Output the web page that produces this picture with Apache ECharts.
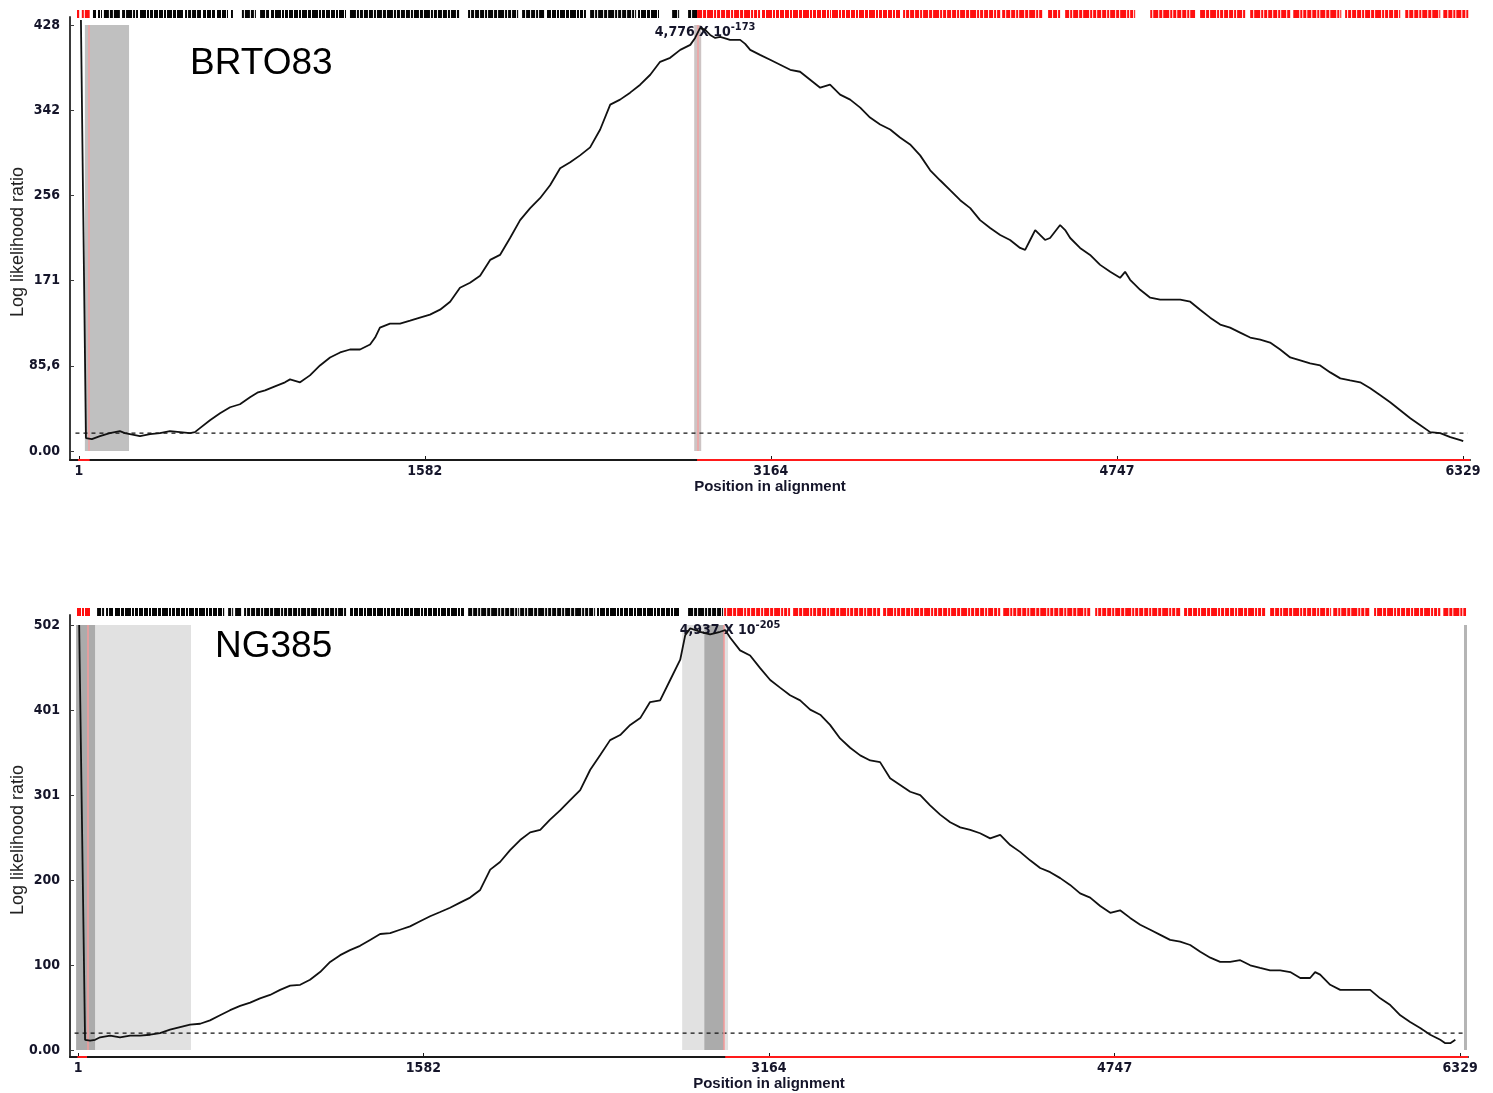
<!DOCTYPE html>
<html><head><meta charset="utf-8">
<script src="https://cdn.jsdelivr.net/npm/echarts@6/dist/echarts.min.js"></script>
<style>html,body{margin:0;padding:0;background:#fff}#c{width:1493px;height:1093px}</style>
</head><body><div id="c"></div>
<script>
// ---------------- DATA ----------------
const xTicks = [1, 1582, 3164, 4747, 6329];
const xTickLabels = ['1', '1582', '3164', '4747', '6329'];

const topYTicks = [0, 85.6, 171.2, 256.8, 342.4, 428];
const topYLabels = ['0.00', '85,6', '171', '256', '342', '428'];
const botYTicks = [0, 100.4, 200.8, 301.2, 401.6, 502];
const botYLabels = ['0.00', '100', '200', '301', '401', '502'];

const yAxisTitle = 'Log likelihood ratio';
const panelNames = ['BRTO83', 'NG385'];
const peakMantissa = ['4,776 X 10', '4,937 X 10'];
const peakExponent = ['-173', '-205'];
const peakLabelAt = [[2864, 421], [2986, 496]];

const thresholds = [18, 20];

// BRTO83 curve
const topPos = [10,33,60,97,142,188,211,234,280,326,371,417,463,509,531,554,600,646,692,737,783,820,852,897,943,966,1012,1057,1103,1149,1195,1240,1286,1332,1355,1377,1423,1469,1515,1560,1606,1652,1698,1743,1789,1835,1881,1926,1972,2018,2064,2109,2155,2201,2247,2292,2338,2384,2430,2475,2521,2567,2613,2658,2704,2750,2796,2818,2841,2864,2887,2910,2933,2978,3024,3047,3070,3115,3161,3207,3253,3298,3344,3390,3435,3481,3527,3573,3618,3664,3710,3755,3801,3847,3893,3938,3984,4030,4076,4121,4167,4213,4258,4304,4327,4350,4373,4396,4418,4441,4487,4510,4533,4578,4624,4670,4716,4761,4784,4807,4853,4899,4944,4990,5036,5082,5127,5173,5219,5264,5310,5356,5402,5447,5493,5539,5585,5630,5676,5722,5768,5813,5859,5905,5951,5996,6042,6088,6134,6179,6225,6271,6317,6330];
const topVal = [433,13,12,15,18,20,18,17,15,17,18,20,19,18,19,23,31,38,44,47,54,59,61,65,69,72,69,76,86,94,99,102,102,107,114,124,128,128,131,134,137,142,150,164,169,176,192,197,214,232,244,254,267,284,290,297,305,323,348,353,360,368,378,391,395,403,408,415,425,423,418,415,416,413,413,409,403,398,393,388,383,381,373,365,368,358,353,345,335,328,323,315,308,297,282,272,262,252,244,232,224,217,212,204,202,212,222,217,212,214,227,222,214,204,197,187,180,174,180,172,162,154,152,152,152,150,142,134,127,124,119,114,112,109,102,94,91,88,86,79,73,71,69,63,56,49,41,33,26,19,18,14,11,10];

// NG385 curve
const botPos = [6,33,56,79,102,148,193,239,285,331,376,422,468,514,560,605,651,697,743,789,834,880,926,972,1018,1063,1109,1155,1201,1246,1292,1338,1384,1430,1475,1521,1567,1613,1659,1704,1750,1796,1842,1888,1933,1979,2025,2071,2117,2162,2208,2254,2300,2346,2391,2437,2483,2529,2575,2620,2666,2712,2758,2781,2804,2849,2895,2941,2964,2987,3032,3078,3124,3170,3215,3261,3307,3353,3399,3444,3490,3536,3582,3628,3673,3719,3765,3811,3857,3902,3948,3994,4040,4086,4131,4177,4223,4269,4314,4360,4406,4452,4498,4543,4589,4635,4681,4727,4772,4818,4864,4910,4956,5001,5047,5093,5139,5185,5230,5276,5322,5368,5413,5459,5505,5551,5597,5642,5665,5688,5734,5780,5826,5871,5917,5963,6009,6055,6100,6146,6192,6238,6261,6284,6307];
const botVal = [502,12,11,12,15,17,15,17,17,18,20,24,27,30,31,35,41,47,52,56,61,65,71,76,77,83,92,104,112,118,123,130,137,138,142,146,152,158,163,168,174,180,189,213,222,236,248,257,260,272,283,295,307,331,348,366,372,384,392,411,413,437,461,490,498,494,491,494,496,487,472,466,451,437,428,419,413,402,396,384,368,357,348,342,340,321,313,305,301,289,278,269,263,260,256,250,254,242,234,224,215,210,203,195,185,180,170,162,165,156,148,142,136,130,128,124,116,109,104,104,106,100,97,94,94,92,85,85,92,89,77,71,71,71,71,61,53,41,33,26,18,12,8,8,12];

// Shaded windows [from, to] in alignment positions
const topBandDark = [[28, 230]];
const topPeakBand = [[2814, 2846]];
const topRedMarks = [47, 2830];
const botBandDark = [[-8, 79], [2868, 2959]];
const botBandLight = [[79, 518], [2767, 2868], [2959, 2977]];
const botRedMarks = [47, 2959];
const botGreyMarks = [6352];

// red portions of the x axis line
const topAxisRed = [[-3, 50], [2827, 6361]];
const botAxisRed = [[-2, 42], [2964, 6365]];

// informative-site strips: runs [from, to]
const topStripBlack = [[65,79],[88,106],[115,188],[198,271],[280,477],[486,559],[568,623],[632,682],[696,705],[746,806],[829,870],[879,1222],[1240,1739],[1780,2009],[2027,2132],[2141,2319],[2338,2548],[2557,2649],[2713,2745],[2786,2827]];
const topStripRed = [[-8,2],[14,50],[2827,3115],[3124,3435],[3444,3755],[3769,4213],[4222,4409],[4432,4487],[4510,4830],[4899,5104],[5127,5333],[5356,5539],[5553,5768],[5790,6042],[6065,6225],[6239,6353]];
const botStripBlack = [[88,120],[129,161],[170,670],[688,711],[720,752],[761,1228],[1246,1768],[1787,2016],[2025,2368],[2377,2753],[2794,2950]];
const botStripRed = [[-4,56],[2959,3261],[3275,3673],[3687,4223],[4237,4635],[4658,5047],[5065,5436],[5459,5734],[5748,5917],[5935,6238],[6252,6356]];

// ---------------- CHART ----------------
const FN = "'DejaVu Sans Condensed','Liberation Sans Narrow','Liberation Sans',sans-serif";
const LBL = '#15152a';
const chart = echarts.init(document.getElementById('c'));

const panels = [
  {grid: {left: 70, right: 23, top: 17, height: 443, outerBoundsMode: 'none'},
   strip: {left: 70, right: 23, top: 10, height: 8, outerBoundsMode: 'none'},
   xmin: -40, xmax: 6361, ymin: -9, ymax: 436, ymaxBand: 428, yTicks: topYTicks, yLabels: topYLabels,
   pos: topPos, val: topVal, thr: thresholds[0], thrRange: [-15, 6350],
   axisRed: topAxisRed, black: topStripBlack, red: topStripRed, titleY: 242},
  {grid: {left: 70, right: 25, top: 615, height: 442, outerBoundsMode: 'none'},
   strip: {left: 70, right: 25, top: 608, height: 8, outerBoundsMode: 'none'},
   xmin: -36, xmax: 6365, ymin: -8.3, ymax: 513.8, ymaxBand: 502, yTicks: botYTicks, yLabels: botYLabels,
   pos: botPos, val: botVal, thr: thresholds[1], thrRange: [-15, 6350],
   axisRed: botAxisRed, black: botStripBlack, red: botStripRed, titleY: 840}
];

const grid = [], xAxis = [], yAxis = [], series = [], graphic = [];

function labelFor(ticks, labels) {
  return function (v) {
    let best = 0, d = Infinity;
    ticks.forEach((t, i) => { if (Math.abs(t - v) < d) { d = Math.abs(t - v); best = i; } });
    return labels[best];
  };
}

// barcode-like rendering of a run (visual texture only)
const barW = [4, 2, 5, 3, 6, 2, 3, 4];
function stripRender(color) {
  return function (params, api) {
    const s = api.coord([api.value(0), 0]);
    const e = api.coord([api.value(1), 0]);
    const cs = params.coordSys;
    const children = [];
    let x = s[0], k = params.dataIndex;
    while (x < e[0]) {
      const w = Math.min(barW[k % barW.length], e[0] - x);
      children.push({type: 'rect', shape: {x: x, y: cs.y, width: Math.max(1, w), height: cs.height},
        style: {fill: color}});
      x += w + 1; k++;
    }
    return {type: 'group', children: children};
  };
}

panels.forEach((p, i) => {
  const gMain = grid.length;
  grid.push(p.grid);
  const gStrip = grid.length;
  grid.push(p.strip);

  graphic.push({type: 'text', x: 18, y: p.titleY, rotation: Math.PI / 2, silent: true,
    style: {text: yAxisTitle, fontFamily: 'Liberation Sans', fontSize: 18, fill: '#222',
      align: 'center', verticalAlign: 'middle'}});

  xAxis.push({
    gridIndex: gMain, type: 'value', min: p.xmin, max: p.xmax,
    name: 'Position in alignment', nameLocation: 'middle', nameGap: 18,
    nameTextStyle: {fontFamily: 'Liberation Sans', fontWeight: 'bold', fontSize: 15, color: LBL},
    axisLine: {show: true, onZero: false, lineStyle: {color: '#1a1a1a', width: 2}},
    axisTick: {show: true, inside: true, length: 4, customValues: xTicks, lineStyle: {color: '#1a1a1a'}},
    axisLabel: {show: true, customValues: xTicks, formatter: labelFor(xTicks, xTickLabels), margin: 4,
      fontFamily: FN, fontWeight: 'bold', fontSize: 14, color: LBL},
    splitLine: {show: false}
  });
  xAxis.push({gridIndex: gStrip, type: 'value', min: p.xmin, max: p.xmax, show: false});

  yAxis.push({
    gridIndex: gMain, type: 'value', min: p.ymin, max: p.ymax,
    axisLine: {show: true, onZero: false, lineStyle: {color: '#3a3a3a', width: 2}},
    axisTick: {show: true, inside: true, length: 4, customValues: p.yTicks, lineStyle: {color: '#3a3a3a'}},
    axisLabel: {show: true, customValues: p.yTicks, formatter: labelFor(p.yTicks, p.yLabels), margin: 10,
      fontFamily: FN, fontWeight: 'bold', fontSize: 14, color: LBL},
    splitLine: {show: false}
  });
  yAxis.push({gridIndex: gStrip, type: 'value', min: 0, max: 1, show: false});

  const xi = gMain, yi = gMain;
  const areas = [];
  const lines = [];
  if (i === 0) {
    topBandDark.forEach(b => areas.push([{xAxis: b[0], yAxis: 0, itemStyle: {color: '#c0c0c0'}}, {xAxis: b[1], yAxis: p.ymaxBand}]));
    topPeakBand.forEach(b => areas.push([{xAxis: b[0], yAxis: 0, itemStyle: {color: '#cdc4c4'}}, {xAxis: b[1], yAxis: p.ymaxBand}]));
    topRedMarks.forEach(m => lines.push([{coord: [m, 0], lineStyle: {color: '#f2a0a0', width: 1.5, type: 'solid'}}, {coord: [m, p.ymaxBand]}]));
  } else {
    botBandLight.forEach(b => areas.push([{xAxis: b[0], yAxis: 0, itemStyle: {color: '#e1e1e1'}}, {xAxis: b[1], yAxis: p.ymaxBand}]));
    botBandDark.forEach(b => areas.push([{xAxis: b[0], yAxis: 0, itemStyle: {color: '#ababab'}}, {xAxis: b[1], yAxis: p.ymaxBand}]));
    botRedMarks.forEach(m => lines.push([{coord: [m, 0], lineStyle: {color: '#f59a9a', width: 1.5, type: 'solid'}}, {coord: [m, p.ymaxBand]}]));
    botGreyMarks.forEach(m => lines.push([{coord: [m, 0], lineStyle: {color: '#b5b5b5', width: 3, type: 'solid'}}, {coord: [m, p.ymaxBand]}]));
  }
  p.axisRed.forEach(r => lines.push([{coord: [r[0], p.ymin], lineStyle: {color: '#ff1a1a', width: 2, type: 'solid'}}, {coord: [r[1], p.ymin]}]));

  series.push({
    type: 'line', xAxisIndex: xi, yAxisIndex: yi, z: 2, symbol: 'none', silent: true,
    data: [[p.thrRange[0], p.thr], [p.thrRange[1], p.thr]],
    lineStyle: {color: '#111', width: 1.3, type: [4, 4]},
    markArea: {silent: true, data: areas},
    markLine: {silent: true, symbol: 'none', label: {show: false}, data: lines}
  });

  series.push({
    type: 'line', xAxisIndex: xi, yAxisIndex: yi, z: 5, symbol: 'none', silent: true,
    data: p.pos.map((x, k) => [x, p.val[k]]),
    lineStyle: {color: '#111', width: 1.8},
    markPoint: {
      silent: true, symbol: 'circle', symbolSize: 1, itemStyle: {color: 'rgba(0,0,0,0)'},
      data: [{coord: peakLabelAt[i]}],
      label: {
        show: true, position: 'inside',
        formatter: '{m|' + peakMantissa[i] + '}{s|' + peakExponent[i] + '}',
        rich: {
          m: {fontFamily: FN, fontWeight: 'bold', fontSize: 14, color: LBL, lineHeight: 15},
          s: {fontFamily: FN, fontWeight: 'bold', fontSize: 11, color: LBL, lineHeight: 15, padding: [0, 0, 10, 0]}
        }
      }
    }
  });

  series.push({type: 'custom', xAxisIndex: gStrip, yAxisIndex: gStrip, silent: true,
    renderItem: stripRender('#050505'), data: p.black, z: 3});
  series.push({type: 'custom', xAxisIndex: gStrip, yAxisIndex: gStrip, silent: true,
    renderItem: stripRender('#ff0f0f'), data: p.red, z: 3});
});

chart.setOption({
  animation: false,
  backgroundColor: '#fff',
  title: [
    {text: panelNames[0], left: 190, top: 45, padding: 0,
      textStyle: {fontFamily: 'Liberation Sans', fontSize: 37, fontWeight: 'normal', color: '#000'}},
    {text: panelNames[1], left: 215, top: 628, padding: 0,
      textStyle: {fontFamily: 'Liberation Sans', fontSize: 37, fontWeight: 'normal', color: '#000'}}
  ],
  graphic: graphic,
  grid, xAxis, yAxis, series
});
</script>
</body></html>
